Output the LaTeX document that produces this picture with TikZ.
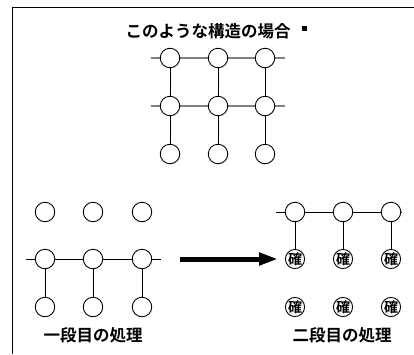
\documentclass[tikz,border=0pt]{standalone}
\usepackage{fontspec}
\setmainfont{Noto Sans CJK JP}[BoldFont={Noto Sans CJK JP Bold}]
\usetikzlibrary{arrows.meta}
\begin{document}
\begin{tikzpicture}[x=1pt,y=-1pt,
  nd/.style={circle,draw=black,line width=0.9pt,fill=white,minimum size=19.5pt,inner sep=0pt},
  kd/.style={circle,draw=black,line width=0.9pt,fill=white,minimum size=19pt,inner sep=0pt,font=\fontsize{14}{14}\selectfont\bfseries},
  lbl/.style={font=\fontsize{16.5}{17}\selectfont\bfseries},
  gline/.style={draw=black!50,line width=1.1pt},
  bline/.style={draw=black,line width=0.9pt},
  frame/.style={draw=black,line width=1.5pt}]
\useasboundingbox (0,0) rectangle (414,354);
% frame
\coordinate (f1) at (12,7.5);
\coordinate (f2) at (414,7.5);
\coordinate (f3) at (12.7,7);
\coordinate (f4) at (12.7,354);
\draw[frame] (f1) -- (f2);
\draw[frame] (f3) -- (f4);
% title
\node[lbl] (title) at (208,31) {このような構造の場合};
\node[fill=black,minimum size=5pt,inner sep=0pt] (sq) at (304.5,28.5) {};
% top grid
\coordinate (tl1) at (151,58);
\coordinate (tr1) at (285,58);
\coordinate (tl2) at (151,106);
\coordinate (tr2) at (285,106);
\draw[gline] (tl1) -- (tr1);
\draw[gline] (tl2) -- (tr2);
\foreach \c/\x in {1/170,2/218,3/265}{
  \node[nd] (t1\c) at (\x,58) {};
  \node[nd] (t2\c) at (\x,106) {};
  \node[nd] (t3\c) at (\x,154) {};
  \draw[bline] (t1\c) -- (t2\c);
  \draw[bline] (t2\c) -- (t3\c);
}
% bottom left
\coordinate (ll) at (26,259);
\coordinate (lr) at (161,259);
\draw[bline] (ll) -- (lr);
\foreach \c/\x in {1/45,2/93,3/142}{
  \node[nd] (a1\c) at (\x,212) {};
  \node[nd] (a2\c) at (\x,259) {};
  \node[nd] (a3\c) at (\x,307) {};
  \draw[bline] (a2\c) -- (a3\c);
}
\node[lbl] (lab1) at (93,335) {一段目の処理};
% arrow
\coordinate (ar1) at (180,259);
\coordinate (ar2) at (278,259);
\draw[line width=5pt,-{Triangle[length=19pt,width=12pt]}] (ar1) -- (ar2);
% bottom right
\coordinate (rl) at (276,212);
\coordinate (rr) at (402,212);
\draw[bline] (rl) -- (rr);
\foreach \c/\x in {1/295,2/343,3/391}{
  \node[nd] (b1\c) at (\x,212) {};
  \node[kd] (b2\c) at (\x,259) {確};
  \node[kd] (b3\c) at (\x,307) {確};
  \draw[bline] (b1\c) -- (b2\c);
}
\node[lbl] (lab2) at (342,335) {二段目の処理};
\end{tikzpicture}
\end{document}
